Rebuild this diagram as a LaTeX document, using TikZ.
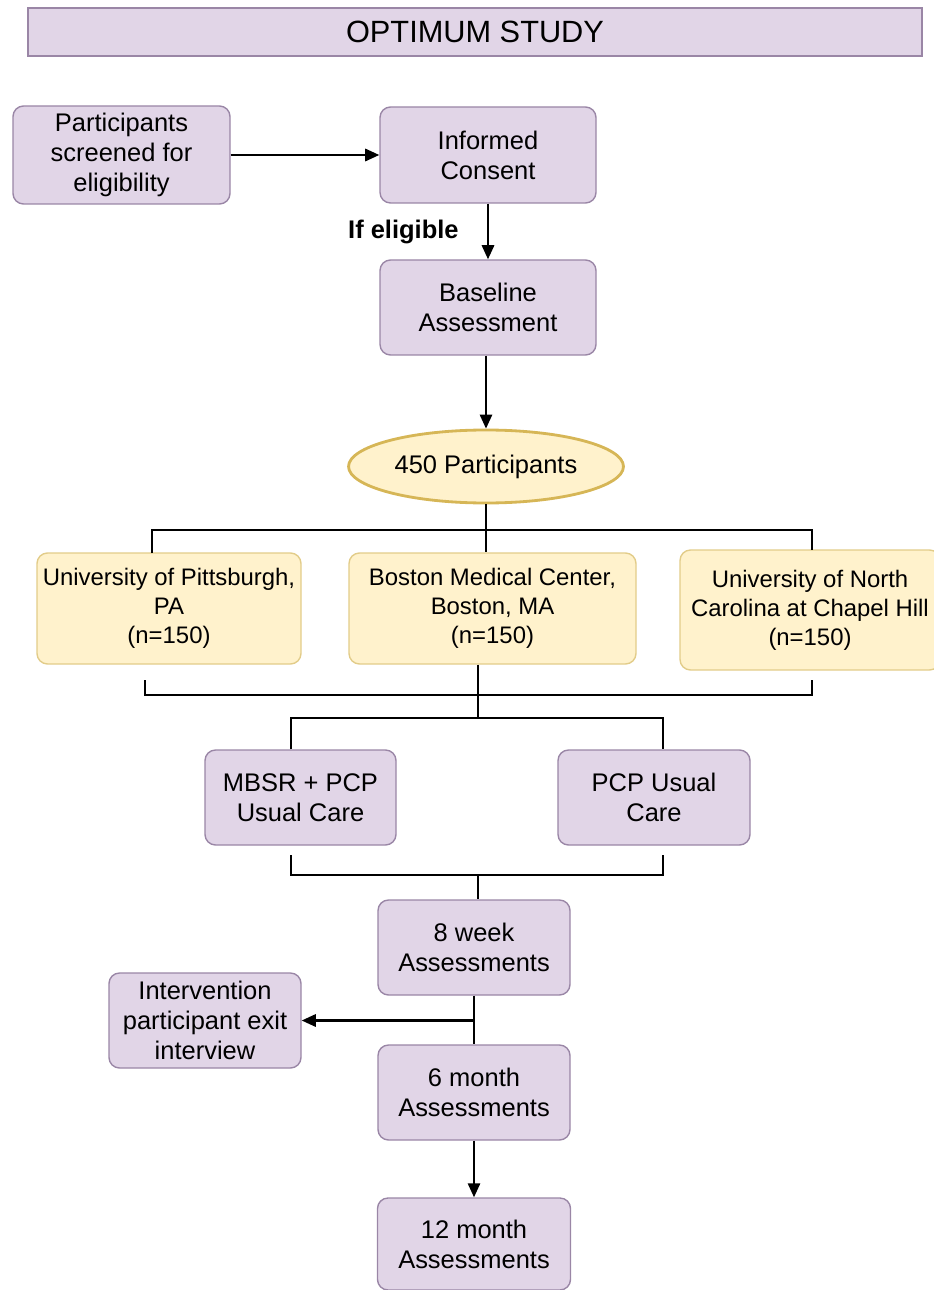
\documentclass[tikz,border=0pt]{standalone}
\usepackage{fontspec}
\setmainfont{Liberation Sans}
\usetikzlibrary{arrows.meta,shapes.geometric}
\definecolor{lilacFill}{HTML}{E1D5E7}
\definecolor{lilacLine}{HTML}{9A86A6}
\definecolor{sandFill}{HTML}{FFF2CC}
\definecolor{sandLine}{HTML}{D6B656}
\tikzset{
  boxsz/.style 2 args={minimum width=#1*0.02cm,minimum height=#2*0.02cm},
  stepbox/.style={rectangle,rounded corners=6pt,draw=lilacLine,fill=lilacFill,line width=0.8pt,
    align=center,inner sep=1pt,font=\fontsize{14.5}{17}\selectfont},
  sitebox/.style={stepbox,draw=sandLine!70,fill=sandFill,font=\fontsize{13.6}{16.5}\selectfont},
  flow/.style={-{Triangle[length=8pt,width=7pt]},line width=1.2pt},
  bracket/.style={line width=1.4pt}
}

\begin{document}
\begin{tikzpicture}[x=0.02cm,y=-0.02cm]
\useasboundingbox (0,0) rectangle (933,1290);
% title bar
\node[rectangle,draw=lilacLine,fill=lilacFill,line width=0.8pt,boxsz={894}{48},font=\fontsize{17.5}{20}\selectfont] (title) at (475,32) {OPTIMUM STUDY};
% enrolment
\node[stepbox,boxsz={217}{98}] (screen) at (121.5,155) {Participants\\screened for\\eligibility};
\node[stepbox,boxsz={216}{96}] (consent) at (488,155) {Informed\\Consent};
\node[stepbox,boxsz={216}{95}] (baseline) at (488,307.5) {Baseline\\Assessment};
\node[ellipse,draw=sandLine,fill=sandFill,line width=1.6pt,boxsz={243}{73},font=\fontsize{14.5}{17}\selectfont] (pool) at (486,466.5) {450 Participants};
% sites
\node[sitebox,boxsz={264}{111}] (pitt) at (169,608.5) {University of Pittsburgh,\\PA\\(n=150)};
\node[sitebox,boxsz={287}{111}] (bmc) at (492.5,608.5) {Boston Medical Center,\\Boston, MA\\(n=150)};
\node[sitebox,boxsz={260}{120}] (unc) at (810,610) {University of North\\Carolina at Chapel Hill\\(n=150)};
% arms
\node[stepbox,boxsz={191}{95}] (mbsr) at (300.5,797.5) {MBSR + PCP\\Usual Care};
\node[stepbox,boxsz={192}{95}] (pcp) at (654,797.5) {PCP Usual\\Care};
% follow-up
\node[stepbox,boxsz={192}{95}] (wk8) at (474,947.5) {8 week\\Assessments};
\node[stepbox,boxsz={192}{95}] (exit) at (205,1020.5) {Intervention\\participant exit\\interview};
\node[stepbox,boxsz={192}{95}] (mo6) at (474,1092.5) {6 month\\Assessments};
\node[stepbox,boxsz={193}{92}] (mo12) at (474,1244) {12 month\\Assessments};

\draw[flow] (screen) -- (consent);
\draw[flow] (consent) -- node[left=0.45cm,font=\fontsize{14.5}{17}\selectfont\bfseries] (elig) {If eligible} (baseline);
\draw[flow] (baseline.south -| pool.north) -- (pool.north);

% brackets
\coordinate (s1) at (152,553);
\coordinate (s2) at (812,550);
\draw[bracket] (s1) -- (152,530) -- (812,530) -- (s2);
\draw[bracket] (pool.south) -- (pool.south |- bmc.north);
\coordinate (m1) at (145,680);
\coordinate (m2) at (812,680);
\draw[bracket] (m1) -- (145,695) -- (812,695) -- (m2);
\coordinate (mid) at (478,718);
\draw[bracket] (bmc.south -| mid) -- (mid);
\draw[bracket] (mbsr.north -| 291,0) -- (291,718) -- (663,718) -- (pcp.north -| 663,0);
\coordinate (b1) at (291,855);
\coordinate (b2) at (663,855);
\coordinate (join) at (478,875);
\draw[bracket] (b1) -- (291,875) -- (663,875) -- (b2);
\draw[bracket] (join) -- (wk8.north -| join);

\draw[line width=1.2pt] (wk8) -- (mo6);
\coordinate (split) at (wk8.south |- exit.east);
\draw[flow] (split) -- (exit.east);
\draw[flow] (mo6) -- (mo12);
\end{tikzpicture}
\end{document}
